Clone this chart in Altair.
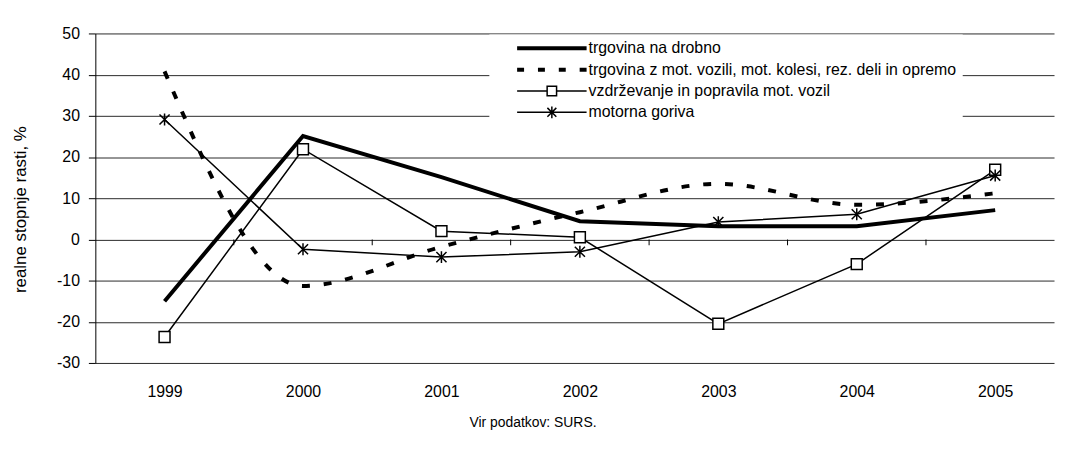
import altair as alt
import pandas as pd

# ---------------- data ----------------
years = [1999, 2000, 2001, 2002, 2003, 2004, 2005]
series_names = [
    "trgovina na drobno",
    "trgovina z mot. vozili, mot. kolesi, rez. deli in opremo",
    "vzdrževanje in popravila mot. vozil",
    "motorna goriva",
]
drobno = [-15.0, 25.1, 15.1, 4.4, 3.2, 3.2, 7.1]
mot_vozila = [40.8, -11.3, -1.8, 6.6, 13.5, 8.4, 11.2]
vzdrzevanje = [-23.7, 21.9, 2.0, 0.5, -20.5, -6.0, 16.9]
goriva = [29.1, -2.4, -4.3, -3.0, 4.2, 6.1, 15.5]
y_ticks = [-30, -20, -10, 0, 10, 20, 30, 40, 50]
y_title = "realne stopnje rasti, %"
source_note = "Vir podatkov: SURS."

# ---------------- tables ----------------
values = [drobno, mot_vozila, vzdrzevanje, goriva]
rows = []
for name, vals in zip(series_names, values):
    for yr, v in zip(years, vals):
        rows.append({"year": yr, "value": v, "series": name})
df = pd.DataFrame(rows)
# category boundaries (between years) for the small ticks on the zero line
bounds_df = pd.DataFrame({"b": [y + 0.5 for y in years[:-1]]})
legend_df = pd.DataFrame({"series": series_names})

FONT = "Liberation Sans"

# legend symbols drawn as filled paths (pixel units, symbol size 4 -> scale 1)
p_thick = "M-35,-2L35,-2L35,2L-35,2Z"
p_dash = ("M-35,-2L-28,-2L-28,2L-35,2Z M-14,-2L-7,-2L-7,2L-14,2Z "
          "M7,-2L14,-2L14,2L7,2Z M28,-2L35,-2L35,2L28,2Z")
p_square = ("M-35,-0.75L-5.5,-0.75L-5.5,0.75L-35,0.75Z "
            "M5.5,-0.75L35,-0.75L35,0.75L5.5,0.75Z "
            "M-5.5,-5.5L5.5,-5.5L5.5,5.5L-5.5,5.5Z "
            "M-4,-4L-4,4L4,4L4,-4Z")
p_star = ("M-35,-0.75L35,-0.75L35,0.75L-35,0.75Z "
          "M-0.75,-6L0.75,-6L0.75,6L-0.75,6Z "
          "M-3.97,-5.03L5.03,3.97L3.97,5.03L-5.03,-3.97Z "
          "M-5.03,3.97L3.97,-5.03L5.03,-3.97L-3.97,5.03Z")
legend_paths = [p_thick, p_dash, p_square, p_star]

star_marker = "M0,-1L0,1M-0.85,-0.85L0.85,0.85M-0.85,0.85L0.85,-0.85"

x_scale = alt.Scale(domain=[1998.5, 2005.425], nice=False, zero=False)
y_scale = alt.Scale(domain=[-30, 50], nice=False, zero=False)

x_axis = alt.Axis(
    values=years, format="d", grid=False, domain=False, ticks=False,
    labelPadding=21, labelFontSize=16, labelFont=FONT, labelColor="black",
    title=None,
)
y_axis = alt.Axis(
    values=y_ticks, grid=True, gridColor="#2a2a2a", gridWidth=1,
    domain=True, domainColor="black", domainWidth=1,
    ticks=True, tickSize=7, tickColor="black", tickWidth=1,
    labelExpr="datum.value + ''",
    labelPadding=9, labelFontSize=16, labelFont=FONT, labelColor="black",
    title=y_title, titleFont=FONT, titleFontSize=17, titleFontWeight="normal",
    titleColor="black", titleX=-75, titleY=177, titleAngle=270,
    titleAlign="center", titleBaseline="middle",
)

base = alt.Chart(df).encode(
    x=alt.X("year:Q", scale=x_scale, axis=x_axis),
    y=alt.Y("value:Q", scale=y_scale, axis=y_axis),
)

thick = base.transform_filter(alt.datum.series == series_names[0]).mark_line(
    color="black", strokeWidth=4
)
dashed = base.transform_filter(alt.datum.series == series_names[1]).mark_line(
    color="black", strokeWidth=4, strokeDash=[8, 14], interpolate="monotone"
)
thin = base.transform_filter(
    (alt.datum.series == series_names[2]) | (alt.datum.series == series_names[3])
).mark_line(color="black", strokeWidth=1.5).encode(detail="series:N")

squares = base.transform_filter(alt.datum.series == series_names[2]).mark_point(
    shape="square", size=121, filled=True, fill="white", stroke="black",
    strokeWidth=1.5, opacity=1
)
stars = base.transform_filter(alt.datum.series == series_names[3]).mark_point(
    shape=star_marker, size=144, filled=False, stroke="black",
    strokeWidth=1.5, opacity=1
)

zero_ticks = alt.Chart(bounds_df).mark_tick(
    orient="vertical", size=6, thickness=1, color="black", yOffset=3, opacity=1
).encode(
    x=alt.X("b:Q", scale=x_scale),
    y=alt.datum(0),
)

legend_layer = alt.Chart(legend_df).transform_filter("false").mark_point(
    filled=True, color="black", opacity=1
).encode(
    shape=alt.Shape(
        "series:N",
        scale=alt.Scale(domain=series_names, range=legend_paths),
        legend=alt.Legend(
            orient="none", legendX=397, legendY=1, fillColor="white",
            padding=6, symbolSize=4, symbolStrokeWidth=0,
            symbolOffset=49, labelOffset=29, labelFont=FONT,
            labelFontSize=16, labelColor="black", labelLimit=700,
            rowPadding=5.5, title=None,
        ),
    )
)

chart = alt.layer(
    thick, dashed, thin, squares, stars, zero_ticks, legend_layer
).properties(
    width=966,
    height=332,
    autosize=alt.AutoSizeParams(type="none"),
    padding={"left": 88, "top": 24, "right": 4, "bottom": 77},
    title=alt.TitleParams(
        source_note, orient="bottom", anchor="middle", frame="bounds",
        font=FONT, fontSize=14, fontWeight="normal", color="black", offset=17,
    ),
    background="white",
).configure_view(strokeWidth=0)

chart.save("out.html", embed_options={"renderer": "svg", "actions": False})
